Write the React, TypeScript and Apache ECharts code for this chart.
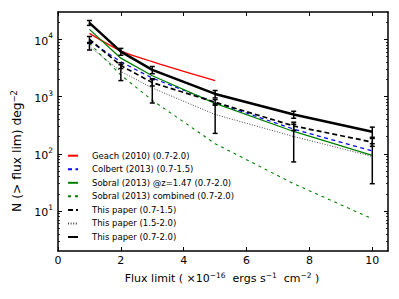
import React, { useEffect, useRef } from "react";
import * as echarts from "echarts";

const fluxX = [1, 2, 3, 5, 7.5, 10];
const geachX = [1, 2, 3, 4, 5];
const geachN = [12700, 6300, 4070, 2750, 1900];
const colbertN = [9300, 4040, 2100, 790, 269, 112];
const sobralZN = [14900, 4680, 2310, 760, 245, 94];
const sobralCombN = [8500, 2370, 860, 150, 30, 7.3];
const paper0715N = [10000, 3480, 1750, 795, 306, 160];
const paper0715Err = [1200, 400, 220, 90, 50, 25];
const paper1520N = [7500, 2750, 1410, 485, 200, 90];
const paper1520Err = [1000, 850, 640, 258, 128, 60];
const paper0720N = [19400, 6100, 2930, 1110, 485, 243];
const paper0720Err = [1900, 840, 420, 165, 68, 49];

const xTicks = [0, 2, 4, 6, 8, 10];
const yTicks = [10, 100, 1000, 10000];
const yMin = 2;
const yMax = 30000;

const names = [
  "Geach (2010) (0.7-2.0)",
  "Colbert (2013) (0.7-1.5)",
  "Sobral (2013) @z=1.47 (0.7-2.0)",
  "Sobral (2013) combined (0.7-2.0)",
  "This paper (0.7-1.5)",
  "This paper (1.5-2.0)",
  "This paper (0.7-2.0)",
];

const FONT = "DejaVu Sans";

function minorTicks(): number[] {
  const out: number[] = [];
  for (const d of [1, 10, 100, 1000, 10000]) {
    for (let m = 2; m <= 9; m++) {
      const v = m * d;
      if (v > yMin && v < yMax) out.push(v);
    }
  }
  return out;
}

function pairs(xs: number[], ys: number[]) {
  return xs.map((x, i) => [x, ys[i]]);
}

function errData(vals: number[], errs: number[]) {
  return fluxX.map((x, i) => [x, vals[i] - errs[i], vals[i] + errs[i]]);
}

function lineSeries(name: string, data: number[][], color: string, width: number, type: any, z = 2, smooth: any = false) {
  return {
    name,
    type: "line",
    data,
    symbol: "none",
    showSymbol: false,
    smooth,
    z,
    lineStyle: { color, width, type },
    itemStyle: { color },
    xAxisIndex: 0,
    yAxisIndex: 0,
  };
}

function errSeries(data: number[][], z: number) {
  return {
    type: "custom",
    data,
    z,
    xAxisIndex: 0,
    yAxisIndex: 0,
    encode: { x: 0, y: [1, 2] },
    renderItem: (params: any, api: any) => {
      const x = api.value(0);
      const p1 = api.coord([x, api.value(1)]);
      const p2 = api.coord([x, api.value(2)]);
      const cw = 2.5;
      const st = { stroke: "#000", lineWidth: 1.5 };
      return {
        type: "group",
        children: [
          { type: "line", shape: { x1: p1[0], y1: p1[1], x2: p2[0], y2: p2[1] }, style: st },
          { type: "line", shape: { x1: p1[0] - cw, y1: p1[1], x2: p1[0] + cw, y2: p1[1] }, style: st },
          { type: "line", shape: { x1: p2[0] - cw, y1: p2[1], x2: p2[0] + cw, y2: p2[1] }, style: st },
        ],
      };
    },
  };
}

export default function App() {
  const ref = useRef<HTMLDivElement>(null);
  useEffect(() => {
    if (!ref.current) return;
    const chart = echarts.init(ref.current, null, { renderer: "svg" });
    const minors = minorTicks();
    const axisLine = { show: true, lineStyle: { color: "#000", width: 1.5 } };
    const logAxisBase = {
      type: "log",
      logBase: 10,
      min: yMin,
      max: yMax,
      splitLine: { show: false },
      axisLine,
    };
    const option: any = {
      animation: false,
      backgroundColor: "#fff",
      textStyle: { fontFamily: FONT },
      grid: { left: 58, right: 11, top: 12, bottom: 48, containLabel: false },
      xAxis: [
        {
          type: "value",
          min: 0,
          max: 10.5,
          position: "bottom",
          splitLine: { show: false },
          axisLine,
          axisTick: { show: true, inside: true, length: 4, lineStyle: { color: "#000", width: 1 }, customValues: xTicks },
          axisLabel: { show: true, customValues: xTicks, fontSize: 11, color: "#000", fontFamily: FONT, margin: 4 },
        },
        {
          type: "value",
          min: 0,
          max: 10.5,
          position: "top",
          splitLine: { show: false },
          axisLine,
          axisTick: { show: true, inside: true, length: 4, lineStyle: { color: "#000", width: 1 }, customValues: xTicks },
          axisLabel: { show: false },
        },
      ],
      yAxis: [
        {
          ...logAxisBase,
          position: "left",
          axisTick: { show: true, inside: true, length: 4, lineStyle: { color: "#000", width: 1 }, customValues: yTicks },
          axisLabel: {
            show: true,
            customValues: yTicks,
            margin: 5,
            color: "#000",
            fontFamily: FONT,
            formatter: (v: number) => "{b|10}{s|" + Math.round(Math.log10(v)) + "}",
            rich: {
              b: { fontSize: 11, fontFamily: FONT, color: "#000", verticalAlign: "bottom", lineHeight: 15 },
              s: { fontSize: 7.5, fontFamily: FONT, color: "#000", verticalAlign: "top", lineHeight: 15, padding: [0, 0, 6, 0] },
            },
          },
        },
        {
          ...logAxisBase,
          position: "left",
          axisLine: { show: false },
          axisTick: { show: true, inside: true, length: 2, lineStyle: { color: "#000", width: 0.8 }, customValues: minors },
          axisLabel: { show: false },
        },
        {
          ...logAxisBase,
          position: "right",
          axisTick: { show: true, inside: true, length: 4, lineStyle: { color: "#000", width: 1 }, customValues: yTicks },
          axisLabel: { show: false },
        },
        {
          ...logAxisBase,
          position: "right",
          axisLine: { show: false },
          axisTick: { show: true, inside: true, length: 2, lineStyle: { color: "#000", width: 0.8 }, customValues: minors },
          axisLabel: { show: false },
        },
      ],
      legend: {
        data: names,
        orient: "vertical",
        left: 67,
        top: 150.7,
        padding: 0,
        itemWidth: 10,
        itemHeight: 8,
        itemGap: 3.55,
        itemStyle: { opacity: 0 },
        textStyle: { fontSize: 8.5, lineHeight: 10, fontFamily: FONT, color: "#000", padding: [0, 0, 0, 9] },
        selectedMode: false,
      },
      graphic: [
        {
          type: "text",
          x: 17,
          y: 151,
          rotation: Math.PI / 2,
          style: {
            text: "N (> flux lim) deg{s|−2}",
            fontSize: 12.3,
            fontFamily: FONT,
            fill: "#000",
            align: "center",
            verticalAlign: "middle",
            rich: {
              s: { fontSize: 8.3, fontFamily: FONT, fill: "#000", padding: [0, 0, 7, 0] },
            },
          },
        },
        {
          type: "text",
          x: 222,
          y: 278,
          style: {
            text: "Flux limit ( ×10{s|−16}  ergs s{s|−1}  cm{s|−2} )",
            fontSize: 11,
            fontFamily: FONT,
            fill: "#000",
            align: "center",
            verticalAlign: "middle",
            rich: {
              s: { fontSize: 7.5, fontFamily: FONT, fill: "#000", padding: [0, 0, 6, 0] },
            },
          },
        },
      ],
      series: [
        lineSeries(names[0], pairs(geachX, geachN), "#ff0000", 1.3, "solid", 2, 0.3),
        lineSeries(names[1], pairs(fluxX, colbertN), "#0000ff", 1.2, [4, 3.5], 2),
        lineSeries(names[2], pairs(fluxX, sobralZN), "#008000", 1.3, "solid", 2),
        lineSeries(names[3], pairs(fluxX, sobralCombN), "#008000", 1.1, [3, 4], 2),
        lineSeries(names[4], pairs(fluxX, paper0715N), "#000000", 1.7, [5, 3], 3),
        lineSeries(names[5], pairs(fluxX, paper1520N), "#444444", 1, [1, 1.6], 3),
        lineSeries(names[6], pairs(fluxX, paper0720N), "#000000", 2.5, "solid", 3),
        errSeries(errData(paper0715N, paper0715Err), 5),
        errSeries(errData(paper1520N, paper1520Err), 5),
        errSeries(errData(paper0720N, paper0720Err), 5),
      ],
    };
    chart.setOption(option);
    return () => chart.dispose();
  }, []);
  return (
    <div
      ref={ref}
      style={{ position: "fixed", left: 0, top: 0, width: 399, height: 299, background: "#fff" }}
    />
  );
}
